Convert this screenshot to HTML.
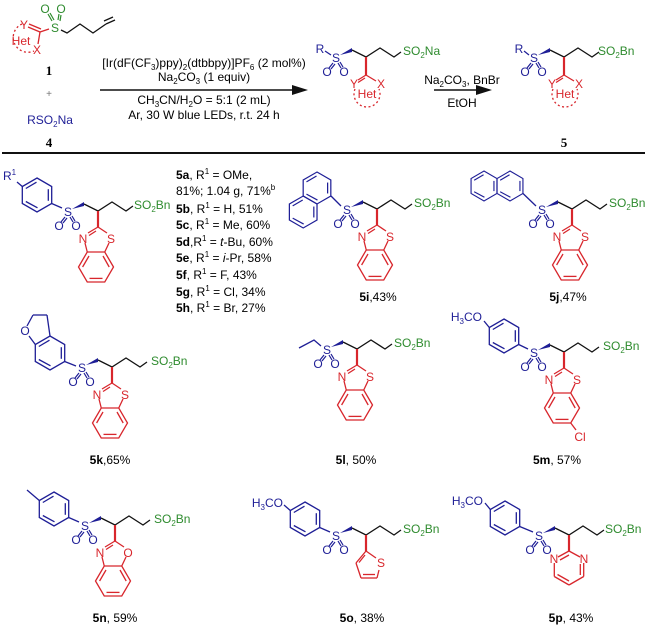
<!DOCTYPE html>
<html><head><meta charset="utf-8"><style>
html,body{margin:0;padding:0;background:#fff;}
svg{display:block;font-family:"Liberation Sans",Arial,sans-serif;}
.b{fill:#1e1e96;} .r{fill:#d8262c;} .g{fill:#2e8b2e;} .k{fill:#111;}
</style></head><body>
<svg width="648" height="626" viewBox="0 0 648 626" xmlns="http://www.w3.org/2000/svg" font-size="12">
<defs>
  <g id="core">
    <polygon points="4,-3 16,-10 16,-6" fill="#1e1e96"/>
    <polyline points="16,-8 30,-1 44,-10 58,-1 65,-6" fill="none" stroke="#111" stroke-width="1.3"/>
    <g stroke="#1e1e96" stroke-width="1.2">
      <line x1="-3" y1="5" x2="-7" y2="10"/><line x1="-1" y1="6" x2="-5" y2="11"/>
      <line x1="2" y1="5" x2="5" y2="10"/><line x1="4" y1="4" x2="7" y2="9"/>
    </g>
  </g>
  <g id="bt" stroke="#d8262c" stroke-width="1.3" fill="none">
    <line x1="30" y1="-1" x2="30" y2="15" stroke-width="2.2"/>
    <line x1="30" y1="15" x2="20" y2="21"/><line x1="28" y1="19" x2="21" y2="23.5"/>
    <line x1="30" y1="15" x2="39" y2="21"/>
    <line x1="17" y1="31" x2="19.25" y2="40"/>
    <line x1="41" y1="31" x2="36.75" y2="40"/>
    <polygon points="45.5,55 36.75,40 19.25,40 10.5,55 19.25,70 36.75,70"/>
    <line x1="35" y1="44" x2="41.2" y2="55"/>
    <line x1="21.5" y1="66.4" x2="34.5" y2="66.4"/>
    <line x1="14.6" y1="55" x2="21" y2="44"/>
  </g>
  <g id="ph" stroke="#1e1e96" stroke-width="1.3" fill="none">
    <polygon points="0,-17 14.7,-8.5 14.7,8.5 0,17 -14.7,8.5 -14.7,-8.5"/>
    <line x1="-11.2" y1="-6.5" x2="-0.5" y2="-12.8"/>
    <line x1="11.3" y1="-5.8" x2="11.3" y2="5.8"/>
    <line x1="0.5" y1="12.8" x2="-11.2" y2="6.5"/>
  </g>
  <g id="het" stroke="#d8262c" stroke-width="1.3" fill="none">
    <line x1="30" y1="-1" x2="30" y2="17" stroke-width="2.2"/>
    <line x1="30" y1="17" x2="22" y2="22"/><line x1="29" y1="20" x2="22" y2="24.5"/>
    <line x1="30" y1="17" x2="40" y2="23"/>
    <path d="M19,31 A13,13 0 1,0 43,31" stroke-dasharray="2,2.5"/>
  </g>
</defs>

<!-- ===== Top scheme ===== -->
<g stroke="#2e8b2e" stroke-width="1.2">
  <line x1="52" y1="21" x2="48" y2="14"/><line x1="54" y1="20" x2="50" y2="13"/>
  <line x1="58" y1="20" x2="59" y2="14"/><line x1="60" y1="21" x2="61" y2="15"/>
</g>
<text x="45" y="13" text-anchor="middle" class="g">O</text>
<text x="61" y="13" text-anchor="middle" class="g">O</text>
<text x="55" y="32" text-anchor="middle" class="g">S</text>
<polyline points="61,30 67,33 80,24 93,33 106,24" fill="none" stroke="#111" stroke-width="1.3"/>
<line x1="106" y1="24" x2="115" y2="20" stroke="#111" stroke-width="1.3"/>
<line x1="104" y1="21" x2="113" y2="17" stroke="#111" stroke-width="1.3"/>
<g stroke="#d8262c" stroke-width="1.3" fill="none">
  <line x1="40" y1="32" x2="49" y2="29"/>
  <line x1="28" y1="27" x2="40" y2="32"/><line x1="29" y1="24" x2="41" y2="29"/>
  <line x1="40" y1="32" x2="38" y2="44"/>
  <path d="M22,24 A14,14 0 1,0 34,51" stroke-dasharray="2,2.5"/>
</g>
<text x="24" y="29" text-anchor="middle" class="r">Y</text>
<text x="37" y="54" text-anchor="middle" class="r">X</text>
<text x="21" y="45" text-anchor="middle" class="r">Het</text>
<text x="49" y="75" text-anchor="middle" font-weight="bold" font-family="Liberation Serif,serif" font-size="13">1</text>
<text x="49" y="97" text-anchor="middle" fill="#777" font-size="10">+</text>
<text x="50" y="124" text-anchor="middle" class="b">RSO<tspan font-size="8" dy="3">2</tspan><tspan dy="-3">Na</tspan></text>
<text x="49" y="147" text-anchor="middle" font-weight="bold" font-family="Liberation Serif,serif" font-size="13">4</text>

<line x1="100" y1="90" x2="296" y2="90" stroke="#111" stroke-width="1.5"/>
<polygon points="292,85 308,90 292,95" fill="#111"/>
<text x="204" y="67" text-anchor="middle">[Ir(dF(CF<tspan font-size="8" dy="3">3</tspan><tspan dy="-3">)ppy)</tspan><tspan font-size="8" dy="3">2</tspan><tspan dy="-3">(dtbbpy)]PF</tspan><tspan font-size="8" dy="3">6</tspan><tspan dy="-3"> (2 mol%)</tspan></text>
<text x="204" y="81" text-anchor="middle">Na<tspan font-size="8" dy="3">2</tspan><tspan dy="-3">CO</tspan><tspan font-size="8" dy="3">3</tspan><tspan dy="-3"> (1 equiv)</tspan></text>
<text x="204" y="104" text-anchor="middle">CH<tspan font-size="8" dy="3">3</tspan><tspan dy="-3">CN/H</tspan><tspan font-size="8" dy="3">2</tspan><tspan dy="-3">O = 5:1 (2 mL)</tspan></text>
<text x="204" y="119" text-anchor="middle">Ar, 30 W blue LEDs, r.t. 24 h</text>

<g transform="translate(336,58)">
  <use href="#core"/><use href="#het"/>
  <line x1="-11" y1="-7" x2="-5" y2="-3" stroke="#1e1e96" stroke-width="1.2"/>
  <text x="-16" y="-5" text-anchor="middle" class="b">R</text>
  <text x="0" y="4" text-anchor="middle" class="b">S</text>
  <text x="-9" y="18" text-anchor="middle" class="b">O</text>
  <text x="8" y="18" text-anchor="middle" class="b">O</text>
  <text x="67" y="-3" class="g">SO<tspan font-size="8" dy="3">2</tspan><tspan dy="-3">Na</tspan></text>
  <text x="18" y="30" text-anchor="middle" class="r">Y</text>
  <text x="45" y="30" text-anchor="middle" class="r">X</text>
  <text x="31" y="40" text-anchor="middle" class="r">Het</text>
</g>
<line x1="434" y1="90" x2="480" y2="90" stroke="#111" stroke-width="1.5"/>
<polygon points="476,85 492,90 476,95" fill="#111"/>
<text x="462" y="84" text-anchor="middle">Na<tspan font-size="8" dy="3">2</tspan><tspan dy="-3">CO</tspan><tspan font-size="8" dy="3">3</tspan><tspan dy="-3">, BnBr</tspan></text>
<text x="462" y="107" text-anchor="middle">EtOH</text>
<g transform="translate(534,58)">
  <use href="#core"/><use href="#het"/>
  <line x1="-10" y1="-7" x2="-5" y2="-3" stroke="#1e1e96" stroke-width="1.2"/>
  <text x="-15" y="-5" text-anchor="middle" class="b">R</text>
  <text x="0" y="4" text-anchor="middle" class="b">S</text>
  <text x="-9" y="18" text-anchor="middle" class="b">O</text>
  <text x="8" y="18" text-anchor="middle" class="b">O</text>
  <text x="64" y="-3" class="g">SO<tspan font-size="8" dy="3">2</tspan><tspan dy="-3">Bn</tspan></text>
  <text x="18" y="30" text-anchor="middle" class="r">Y</text>
  <text x="45" y="30" text-anchor="middle" class="r">X</text>
  <text x="31" y="40" text-anchor="middle" class="r">Het</text>
</g>
<text x="564" y="147" text-anchor="middle" font-weight="bold" font-family="Liberation Serif,serif" font-size="13">5</text>

<line x1="2" y1="153" x2="645" y2="153" stroke="#111" stroke-width="2"/>

<!-- 5a -->
<use href="#ph" transform="translate(37,195)"/>
<line x1="51.7" y1="203.5" x2="62" y2="208" stroke="#1e1e96" stroke-width="1.3"/>
<line x1="22.3" y1="186.5" x2="17" y2="182" stroke="#1e1e96" stroke-width="1.3"/>
<text x="3" y="180" class="b">R<tspan font-size="8" dy="-5">1</tspan></text>
<g transform="translate(68,212)">
  <use href="#core"/><use href="#bt"/>
  <text x="0" y="4" text-anchor="middle" class="b">S</text>
  <text x="-9" y="18" text-anchor="middle" class="b">O</text>
  <text x="8" y="18" text-anchor="middle" class="b">O</text>
  <text x="66" y="-3" class="g">SO<tspan font-size="8" dy="3">2</tspan><tspan dy="-3">Bn</tspan></text>
  <text x="15" y="31" text-anchor="middle" class="r">N</text>
  <text x="43" y="31" text-anchor="middle" class="r">S</text>
</g>
<g font-size="12">
<text x="176" y="179"><tspan font-weight="bold">5a</tspan>, R<tspan font-size="8" dy="-5">1</tspan><tspan dy="5"> = OMe,</tspan></text>
<text x="176" y="195">81%; 1.04 g, 71%<tspan font-size="8" dy="-5">b</tspan></text>
<text x="176" y="213"><tspan font-weight="bold">5b</tspan>, R<tspan font-size="8" dy="-5">1</tspan><tspan dy="5"> = H, 51%</tspan></text>
<text x="176" y="229"><tspan font-weight="bold">5c</tspan>, R<tspan font-size="8" dy="-5">1</tspan><tspan dy="5"> = Me, 60%</tspan></text>
<text x="176" y="246"><tspan font-weight="bold">5d</tspan>,R<tspan font-size="8" dy="-5">1</tspan><tspan dy="5"> = </tspan><tspan font-style="italic">t</tspan>-Bu, 60%</text>
<text x="176" y="262"><tspan font-weight="bold">5e</tspan>, R<tspan font-size="8" dy="-5">1</tspan><tspan dy="5"> = </tspan><tspan font-style="italic">i</tspan>-Pr, 58%</text>
<text x="176" y="279"><tspan font-weight="bold">5f</tspan>, R<tspan font-size="8" dy="-5">1</tspan><tspan dy="5"> = F, 43%</tspan></text>
<text x="176" y="296"><tspan font-weight="bold">5g</tspan>, R<tspan font-size="8" dy="-5">1</tspan><tspan dy="5"> = Cl, 34%</tspan></text>
<text x="176" y="312"><tspan font-weight="bold">5h</tspan>, R<tspan font-size="8" dy="-5">1</tspan><tspan dy="5"> = Br, 27%</tspan></text>
</g>

<!-- 5i -->
<use href="#ph" transform="translate(317,188) scale(0.94)"/>
<use href="#ph" transform="translate(303.2,212) scale(0.94)"/>
<line x1="331" y1="196" x2="341" y2="206" stroke="#1e1e96" stroke-width="1.3"/>
<g transform="translate(347,210)">
  <use href="#core"/><use href="#bt"/>
  <text x="0" y="4" text-anchor="middle" class="b">S</text>
  <text x="-9" y="18" text-anchor="middle" class="b">O</text>
  <text x="8" y="18" text-anchor="middle" class="b">O</text>
  <text x="67" y="-3" class="g">SO<tspan font-size="8" dy="3">2</tspan><tspan dy="-3">Bn</tspan></text>
  <text x="15" y="31" text-anchor="middle" class="r">N</text>
  <text x="43" y="31" text-anchor="middle" class="r">S</text>
</g>
<text x="378" y="301" text-anchor="middle"><tspan font-weight="bold">5i</tspan>,43%</text>

<!-- 5j -->
<use href="#ph" transform="translate(484,186) scale(0.88)"/>
<use href="#ph" transform="translate(510,186) scale(0.88)"/>
<line x1="523" y1="193.5" x2="536" y2="206" stroke="#1e1e96" stroke-width="1.3"/>
<g transform="translate(542,210)">
  <use href="#core"/><use href="#bt"/>
  <text x="0" y="4" text-anchor="middle" class="b">S</text>
  <text x="-9" y="18" text-anchor="middle" class="b">O</text>
  <text x="8" y="18" text-anchor="middle" class="b">O</text>
  <text x="67" y="-3" class="g">SO<tspan font-size="8" dy="3">2</tspan><tspan dy="-3">Bn</tspan></text>
  <text x="15" y="31" text-anchor="middle" class="r">N</text>
  <text x="43" y="31" text-anchor="middle" class="r">S</text>
</g>
<text x="568" y="301" text-anchor="middle"><tspan font-weight="bold">5j</tspan>,47%</text>

<!-- 5k -->
<use href="#ph" transform="translate(50,353)"/>
<g stroke="#1e1e96" stroke-width="1.3">
  <line x1="64.7" y1="361.5" x2="76" y2="366"/>
  <line x1="29" y1="336" x2="35.3" y2="344.5"/>
  <line x1="27" y1="326" x2="33" y2="315"/>
  <line x1="33" y1="315" x2="47" y2="315"/>
  <line x1="47" y1="315" x2="50" y2="336"/>
</g>
<text x="25" y="335" text-anchor="middle" class="b">O</text>
<g transform="translate(82,368)">
  <use href="#core"/><use href="#bt"/>
  <text x="0" y="4" text-anchor="middle" class="b">S</text>
  <text x="-9" y="18" text-anchor="middle" class="b">O</text>
  <text x="8" y="18" text-anchor="middle" class="b">O</text>
  <text x="69" y="-3" class="g">SO<tspan font-size="8" dy="3">2</tspan><tspan dy="-3">Bn</tspan></text>
  <text x="15" y="31" text-anchor="middle" class="r">N</text>
  <text x="43" y="31" text-anchor="middle" class="r">S</text>
</g>
<text x="110" y="464" text-anchor="middle"><tspan font-weight="bold">5k</tspan>,65%</text>

<!-- 5l -->
<polyline points="299,348 314,340 321,346" fill="none" stroke="#1e1e96" stroke-width="1.3"/>
<g transform="translate(327,350)">
  <use href="#core"/><use href="#bt"/>
  <text x="0" y="4" text-anchor="middle" class="b">S</text>
  <text x="-9" y="18" text-anchor="middle" class="b">O</text>
  <text x="8" y="18" text-anchor="middle" class="b">O</text>
  <text x="67" y="-3" class="g">SO<tspan font-size="8" dy="3">2</tspan><tspan dy="-3">Bn</tspan></text>
  <text x="15" y="31" text-anchor="middle" class="r">N</text>
  <text x="43" y="31" text-anchor="middle" class="r">S</text>
</g>
<text x="356" y="464" text-anchor="middle"><tspan font-weight="bold">5l</tspan>, 50%</text>

<!-- 5m -->
<use href="#ph" transform="translate(504,336)"/>
<line x1="518.7" y1="344.5" x2="528" y2="349" stroke="#1e1e96" stroke-width="1.3"/>
<line x1="484" y1="321" x2="489.3" y2="327.5" stroke="#1e1e96" stroke-width="1.3"/>
<text x="482" y="321" text-anchor="end" class="b">H<tspan font-size="8" dy="3">3</tspan><tspan dy="-3">CO</tspan></text>
<g transform="translate(534,353)">
  <use href="#core"/><use href="#bt"/>
  <line x1="36.75" y1="70" x2="42" y2="77" stroke="#d8262c" stroke-width="1.3"/>
  <text x="46" y="88" text-anchor="middle" class="r">Cl</text>
  <text x="0" y="4" text-anchor="middle" class="b">S</text>
  <text x="-9" y="18" text-anchor="middle" class="b">O</text>
  <text x="8" y="18" text-anchor="middle" class="b">O</text>
  <text x="69" y="-3" class="g">SO<tspan font-size="8" dy="3">2</tspan><tspan dy="-3">Bn</tspan></text>
  <text x="15" y="31" text-anchor="middle" class="r">N</text>
  <text x="43" y="31" text-anchor="middle" class="r">S</text>
</g>
<text x="557" y="464" text-anchor="middle"><tspan font-weight="bold">5m</tspan>, 57%</text>

<!-- 5n -->
<use href="#ph" transform="translate(54,509)"/>
<line x1="68.7" y1="517.5" x2="79" y2="522" stroke="#1e1e96" stroke-width="1.3"/>
<line x1="39.3" y1="500.5" x2="27" y2="490" stroke="#1e1e96" stroke-width="1.3"/>
<g transform="translate(85,526)">
  <use href="#core"/><use href="#bt"/>
  <text x="0" y="4" text-anchor="middle" class="b">S</text>
  <text x="-9" y="18" text-anchor="middle" class="b">O</text>
  <text x="8" y="18" text-anchor="middle" class="b">O</text>
  <text x="69" y="-3" class="g">SO<tspan font-size="8" dy="3">2</tspan><tspan dy="-3">Bn</tspan></text>
  <text x="15" y="31" text-anchor="middle" class="r">N</text>
  <text x="43" y="31" text-anchor="middle" class="r">O</text>
</g>
<text x="115" y="622" text-anchor="middle"><tspan font-weight="bold">5n</tspan>, 59%</text>

<!-- 5o -->
<use href="#ph" transform="translate(305,519)"/>
<line x1="319.7" y1="527.5" x2="330" y2="532" stroke="#1e1e96" stroke-width="1.3"/>
<line x1="284" y1="505" x2="290.3" y2="510.5" stroke="#1e1e96" stroke-width="1.3"/>
<text x="283" y="507" text-anchor="end" class="b">H<tspan font-size="8" dy="3">3</tspan><tspan dy="-3">CO</tspan></text>
<g transform="translate(336,536)">
  <use href="#core"/>
  <text x="0" y="4" text-anchor="middle" class="b">S</text>
  <text x="-9" y="18" text-anchor="middle" class="b">O</text>
  <text x="8" y="18" text-anchor="middle" class="b">O</text>
  <text x="67" y="-3" class="g">SO<tspan font-size="8" dy="3">2</tspan><tspan dy="-3">Bn</tspan></text>
</g>
<g stroke="#d8262c" stroke-width="1.3" fill="none">
  <line x1="366" y1="535" x2="366" y2="551" stroke-width="2.2"/>
  <line x1="366" y1="551" x2="356" y2="563"/><line x1="365" y1="555" x2="359" y2="562.5"/>
  <line x1="356" y1="563" x2="361" y2="578"/>
  <line x1="361" y1="578" x2="377" y2="578"/><line x1="363" y1="574.5" x2="375" y2="574.5"/>
  <line x1="377" y1="578" x2="379" y2="570"/>
  <line x1="366" y1="551" x2="376" y2="558"/>
</g>
<text x="381" y="567" text-anchor="middle" class="r">S</text>
<text x="362" y="622" text-anchor="middle"><tspan font-weight="bold">5o</tspan>, 38%</text>

<!-- 5p -->
<use href="#ph" transform="translate(505,518)"/>
<line x1="519.7" y1="526.5" x2="533" y2="532" stroke="#1e1e96" stroke-width="1.3"/>
<line x1="485" y1="503" x2="490.3" y2="509.5" stroke="#1e1e96" stroke-width="1.3"/>
<text x="483" y="505" text-anchor="end" class="b">H<tspan font-size="8" dy="3">3</tspan><tspan dy="-3">CO</tspan></text>
<g transform="translate(539,536)">
  <use href="#core"/>
  <text x="0" y="4" text-anchor="middle" class="b">S</text>
  <text x="-9" y="18" text-anchor="middle" class="b">O</text>
  <text x="8" y="18" text-anchor="middle" class="b">O</text>
  <text x="66" y="-3" class="g">SO<tspan font-size="8" dy="3">2</tspan><tspan dy="-3">Bn</tspan></text>
</g>
<g stroke="#d8262c" stroke-width="1.3" fill="none">
  <line x1="569" y1="535" x2="569" y2="551" stroke-width="2.2"/>
  <line x1="569" y1="551" x2="558" y2="557"/><line x1="569" y1="555" x2="560" y2="560"/>
  <line x1="569" y1="551" x2="580" y2="557"/>
  <line x1="583.7" y1="563" x2="583.7" y2="576.5"/><line x1="580.3" y1="564" x2="580.3" y2="575"/>
  <line x1="583.7" y1="576.5" x2="569" y2="585"/>
  <line x1="569" y1="585" x2="554.3" y2="576.5"/><line x1="569" y1="581" x2="557.5" y2="574.5"/>
  <line x1="554.3" y1="576.5" x2="554.3" y2="563"/>
</g>
<text x="554" y="563" text-anchor="middle" class="r">N</text>
<text x="584" y="563" text-anchor="middle" class="r">N</text>
<text x="571" y="622" text-anchor="middle"><tspan font-weight="bold">5p</tspan>, 43%</text>
</svg>
</body></html>
